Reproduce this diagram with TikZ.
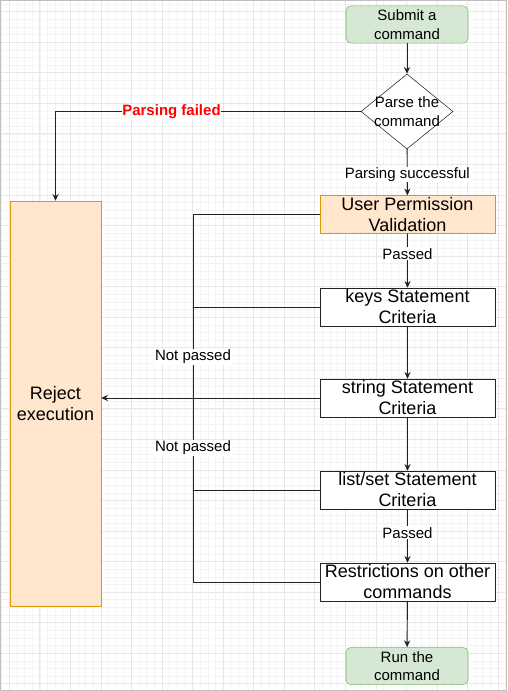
\documentclass[tikz,border=0pt]{standalone}
\usepackage{fontspec}
\setmainfont{Liberation Sans}
\usetikzlibrary{arrows.meta,shapes.geometric}
\definecolor{termfill}{HTML}{D5E8D4}
\definecolor{termline}{HTML}{82B366}
\definecolor{warnfill}{HTML}{FFE6CC}
\definecolor{warnline}{HTML}{D79B00}
\definecolor{gridminor}{HTML}{F4F4F4}
\definecolor{gridmajor}{HTML}{E8E8E8}
\definecolor{edgecol}{HTML}{222222}
\newcommand{\bigtxt}{\fontsize{13.5}{15.8}\selectfont}
\newcommand{\smalltxt}{\fontsize{11.25}{14}\selectfont}
\begin{document}
\begin{tikzpicture}[x=0.75pt,y=-0.75pt,line cap=round,line join=round,
  term/.style={draw=termline,fill=termfill,rounded corners=3.75pt,align=center,
    minimum width=91.5pt,minimum height=28pt,inner sep=0pt,font=\smalltxt},
  check/.style={draw=edgecol,fill=white,align=center,minimum width=131.25pt,
    minimum height=28.5pt,inner sep=0pt,font=\bigtxt},
  warnbox/.style={check,draw=warnline,fill=warnfill},
  lbl/.style={fill=white,inner sep=0.6pt,font=\smalltxt},
  flow/.style={draw=edgecol,line width=0.7pt,-{Stealth[length=5pt,width=4.6pt]}},
  wire/.style={draw=edgecol,line width=0.7pt}]
  \useasboundingbox (0,0) rectangle (507,691);
  % grid
  \foreach \i in {0,...,66}
    \draw[gridminor,line width=0.5pt] ({1.66+7.6375*\i},0) -- ++(0,691);
  \foreach \i in {0,...,89}
    \draw[gridminor,line width=0.5pt] (0,{4.06+7.6375*\i}) -- ++(507,0);
  \foreach \i in {0,...,16}
    \draw[gridmajor,line width=0.6pt] ({9.3+30.55*\i},0) -- ++(0,691);
  \foreach \i in {0,...,22}
    \draw[gridmajor,line width=0.6pt] (0,{11.7+30.55*\i}) -- ++(507,0);
  \draw[black!25,line width=1.2pt] (0.6,0.6) rectangle (506.4,690.4);

  % nodes
  \node[term] (submit) at (407,24.5) {Submit a\\command};
  \node[draw=edgecol,fill=white,diamond,minimum width=69pt,minimum height=56.25pt,
    inner sep=0pt,label={[font=\smalltxt,align=center]center:Parse the\\command}]
    (parse) at (407,111.5) {};
  \node[warnbox] (upv) at (407.5,214.5) {User Permission\\Validation};
  \node[check] (keys) at (407.5,307) {keys Statement\\Criteria};
  \node[check] (string) at (407.5,398) {string Statement\\Criteria};
  \node[check] (listset) at (407.5,490) {list/set Statement\\Criteria};
  \node[check] (restr) at (407.5,582) {Restrictions on other\\commands};
  \node[term] (run) at (407,666) {Run the\\command};
  \node[warnbox,minimum width=68.25pt,minimum height=303.75pt] (reject)
    at (55.5,403.5) {Reject\\execution};
  \coordinate (bus) at (193,0);

  % connectors
  \draw[flow] (submit) -- (parse);
  \draw[flow] (parse) -- node[lbl,pos=0.55] {Parsing successful} (upv);
  \draw[flow] (parse.west) -| node[lbl,pos=0.31,text=red,font=\smalltxt\bfseries]
    {Parsing failed} (reject.north);
  \draw[flow] (upv) -- node[lbl,pos=0.37] {Passed} (keys);
  \draw[flow] (keys) -- (string);
  \draw[flow] (string) -- (listset);
  \draw[flow] (listset) -- node[lbl,pos=0.44] {Passed} (restr);
  \draw[flow] (restr) -- (run);
  \draw[wire] (upv.west) -- (upv.west -| bus) -- (restr.west -| bus) -- (restr.west);
  \draw[wire] (keys.west) -- (keys.west -| bus);
  \draw[wire] (listset.west) -- (listset.west -| bus);
  \draw[flow] (string.west) -- (string.west -| reject.east);
  \node[lbl] (np1) at (193,357) {Not passed};
  \node[lbl] (np2) at (193,448) {Not passed};
\end{tikzpicture}
\end{document}
